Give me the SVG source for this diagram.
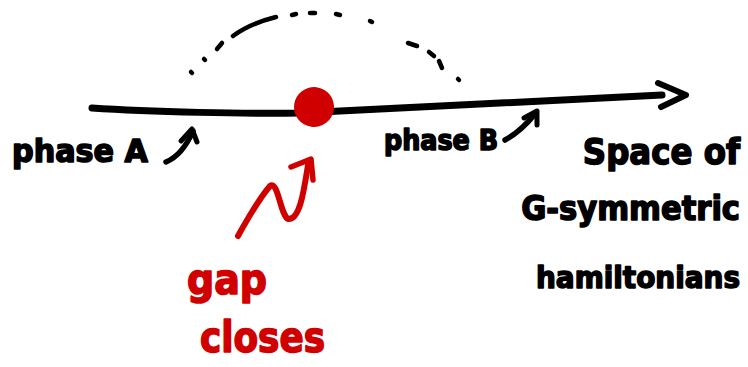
<svg xmlns="http://www.w3.org/2000/svg" width="748" height="367" viewBox="0 0 748 367">
  <style>
    .ink { fill: none; stroke: #000; stroke-linecap: round; stroke-linejoin: round; }
    .red { fill: none; stroke: #d10000; stroke-linecap: round; stroke-linejoin: round; }
    .hand { font-family: "Liberation Sans Narrow", "DejaVu Sans Condensed", "Liberation Sans", sans-serif; font-weight: bold; stroke-linejoin: round; }
    .blk { fill: #000; stroke: #000; stroke-width: 1.5; }
    .rtx { fill: #d10000; stroke: #d10000; stroke-width: 1.5; }
    .end { text-anchor: end; }
  </style>
  <rect width="748" height="367" fill="#fff"/>

  <g id="connectors">
    <!-- parameter axis with open arrowhead -->
    <path class="ink" stroke-width="7" d="M92,108 C150,112 250,114 300,113 C380,108 520,101 662,95"/>
    <path class="ink" stroke-width="6" d="M658,83 L686,95 L661,107"/>
    <!-- dotted detour above the axis -->
    <g class="ink" stroke-width="4.5">
      <path d="M191,72 L192,73"/>
      <path d="M204,59 L205,60"/>
      <path d="M217,49 L222,43"/>
      <path d="M233,36 C245,27 260,21 276,17"/>
      <path d="M292,15 L296,14"/>
      <path d="M310,13 L315,13"/>
      <path d="M336,14 L340,15"/>
      <path d="M370,21 L372,22"/>
      <path d="M408,43 L417,46"/>
      <path d="M429,52 L434,56"/>
      <path d="M439,61 L442,68"/>
      <path d="M458,79 L459,80"/>
    </g>
    <!-- little arrows after the phase labels -->
    <path class="ink" stroke-width="5.5" d="M166,162 C178,157 186,147 193,131"/>
    <path class="ink" stroke-width="5" d="M181,141 L192,129 L197,142"/>
    <path class="ink" stroke-width="5.5" d="M505,140 C516,134 526,125 535,114"/>
    <path class="ink" stroke-width="5" d="M524,118 L537,111 L537,125"/>
    <!-- red zigzag arrow pointing at the gap closing point -->
    <path class="red" stroke-width="6" d="M238,236 C248,218 258,200 270,186 C278,180 280,214 288,219 C300,220 304,190 308,165"/>
    <path class="red" stroke-width="5.5" d="M291,167 L311,159 L313,180"/>
  </g>

  <g id="gap-point">
    <ellipse cx="314" cy="107" rx="20" ry="20" fill="#d10000" transform="rotate(-15 314 107)"/>
  </g>

  <g id="phase-a">
    <text class="hand blk" x="12" y="162" font-size="32" textLength="136" lengthAdjust="spacingAndGlyphs">phase A</text>
  </g>

  <g id="phase-b">
    <text class="hand blk" x="384" y="150" font-size="28" textLength="114" lengthAdjust="spacingAndGlyphs">phase B</text>
  </g>

  <g id="space-label">
    <text class="hand blk end" x="740" y="164" font-size="36">Space of</text>
    <text class="hand blk end" x="740" y="220" font-size="34">G-symmetric</text>
    <text class="hand blk end" x="740" y="288" font-size="31">hamiltonians</text>
  </g>

  <g id="gap-label">
    <text class="hand rtx" x="187" y="294" font-size="42" textLength="80" lengthAdjust="spacingAndGlyphs">gap</text>
    <text class="hand rtx" x="200" y="352" font-size="42" textLength="125" lengthAdjust="spacingAndGlyphs">closes</text>
  </g>
</svg>
